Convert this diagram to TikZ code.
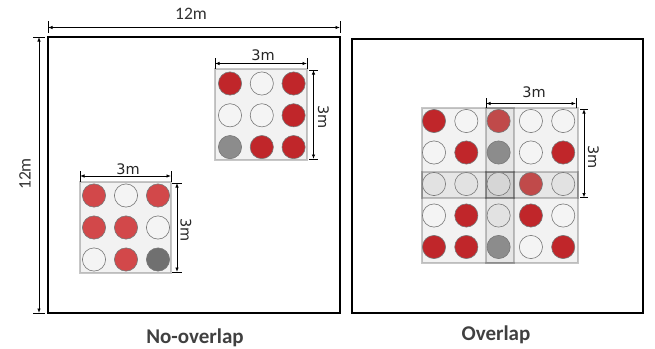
\documentclass[tikz,border=0pt]{standalone}
\usepackage{fontspec}
\setmainfont{Carlito}
\newfontfamily\dejavu{DejaVu Sans}
\usetikzlibrary{arrows.meta}

\definecolor{redA}{RGB}{192,38,42}
\definecolor{redB}{RGB}{210,72,74}
\definecolor{redT}{RGB}{192,74,74}
\definecolor{grayA}{RGB}{140,140,140}
\definecolor{grayB}{RGB}{112,112,112}
\definecolor{whiteA}{RGB}{244,244,244}
\definecolor{whiteT}{RGB}{226,226,226}
\definecolor{whiteTT}{RGB}{214,214,214}
\definecolor{ringC}{RGB}{120,120,120}
\definecolor{labelC}{RGB}{64,64,64}
\definecolor{dimtext}{RGB}{50,50,50}

\tikzset{
  frame/.style={draw=black, line width=2.6pt},
  window/.style={fill=black, fill opacity=0.05, draw=black, draw opacity=0.22, line width=1.4pt},
  dimline/.style={line width=0.8pt, {Latex[length=4.5pt,width=3.5pt]}-{Latex[length=4.5pt,width=3.5pt]}},
  dimtick/.style={line width=0.8pt},
  bigdim/.style={text=dimtext, inner sep=0pt, font=\fontsize{17.5}{20}\selectfont},
  smalldim/.style={text=black!85, inner sep=0pt, font=\dejavu\fontsize{14.5}{17}\selectfont},
  caption/.style={text=labelC, inner sep=0pt, anchor=base, font=\bfseries\fontsize{21}{25}\selectfont},
  dot/.style={draw=ringC, line width=0.6pt},
}
% one 3x3 window of sites: #1 x0, #2 y0, #3 pitch, #4 colours row by row
\newcommand{\sitegrid}[4]{%
  \foreach \c [count=\k from 0] in {#4} {
    \pgfmathtruncatemacro{\col}{mod(\k,3)}
    \pgfmathtruncatemacro{\row}{div(\k,3)}
    \fill[\c, dot] ({#1+\col*#3},{#2+\row*#3}) circle (11.6);
  }
}

\begin{document}
\begin{tikzpicture}[x=1pt, y=-1pt]
\useasboundingbox (0,0) rectangle (655,348);

% ---------------- left field: no overlap ----------------
\draw[frame] (48,37) rectangle (340,313);

% 12m dimensions of the field
\coordinate (tl1) at (48,27.5);  \coordinate (tr1) at (340,27.5);
\draw[dimtick] (48,21) -- (48,33);  \draw[dimtick] (340,21) -- (340,33);
\draw[dimline] (tl1) -- (tr1);
\node[bigdim] (w12) at (191,13.5) {12m};

\coordinate (lt1) at (39,37);  \coordinate (lb1) at (39,313);
\draw[dimtick] (33,37) -- (45,37);  \draw[dimtick] (33,313) -- (45,313);
\draw[dimline] (lt1) -- (lb1);
\node[bigdim, rotate=90] (h12) at (25,174) {12m};

% upper window
\draw[window] (215,69) rectangle (307,160);
\sitegrid{230}{83.5}{31.8}{redA,whiteA,redA,whiteA,whiteA,redA,grayA,redA,redA}
\coordinate (ua) at (215,63.5);  \coordinate (ub) at (307,63.5);
\draw[dimtick] (215,58) -- (215,69);  \draw[dimtick] (307,58) -- (307,69);
\draw[dimline] (ua) -- (ub);
\node[smalldim] (u3w) at (263,55) {3m};
\coordinate (uc) at (313.5,70);  \coordinate (ud) at (313.5,159);
\draw[dimtick] (309,70) -- (318,70);  \draw[dimtick] (309,159) -- (318,159);
\draw[dimline] (uc) -- (ud);
\node[smalldim, rotate=-90] (u3h) at (323.5,117) {3m};

% lower window
\draw[window] (80,182) rectangle (171,273);
\sitegrid{94}{195.5}{32}{redB,whiteA,redB,redB,redB,whiteA,whiteA,redB,grayB}
\coordinate (la) at (80,176);  \coordinate (lb) at (171,176);
\draw[dimtick] (80,171) -- (80,182);  \draw[dimtick] (171,171) -- (171,182);
\draw[dimline] (la) -- (lb);
\node[smalldim] (l3w) at (128,169.5) {3m};
\coordinate (lc) at (177,183);  \coordinate (ld) at (177,272);
\draw[dimtick] (172,183) -- (182,183);  \draw[dimtick] (172,272) -- (182,272);
\draw[dimline] (lc) -- (ld);
\node[smalldim, rotate=-90] (l3h) at (186,230) {3m};

\node[caption] (capA) at (195,343) {No-overlap};

% ---------------- right field: overlapping windows ----------------
\draw[frame] (352,39) rectangle (643,313);

\draw[window] (422,108) rectangle (514,198);
\draw[window] (486,108) rectangle (578,198);
\draw[window] (422,172) rectangle (514,263);
\draw[window] (486,172) rectangle (578,263);

% 5x5 sites, shared column and row sit under two or four windows
\foreach \c [count=\k from 0] in {
  redA,whiteA,redT,whiteA,whiteA,
  whiteA,redA,grayA,whiteA,redA,
  whiteT,whiteT,whiteTT,redT,whiteT,
  whiteA,redA,whiteT,redA,whiteA,
  redA,redA,grayA,whiteA,redA} {
  \pgfmathtruncatemacro{\col}{mod(\k,5)}
  \pgfmathtruncatemacro{\row}{div(\k,5)}
  \fill[\c, dot] ({434+\col*32.3},{121+\row*31.5}) circle (11.6);
}

\coordinate (oa) at (486,103.5);  \coordinate (ob) at (576,103.5);
\draw[dimtick] (486,98) -- (486,108);  \draw[dimtick] (576,98) -- (576,108);
\draw[dimline] (oa) -- (ob);
\node[smalldim] (o3w) at (534,92.5) {3m};
\coordinate (oc) at (584,109);  \coordinate (od) at (584,197.5);
\draw[dimtick] (580,109) -- (588,109);  \draw[dimtick] (580,197.5) -- (588,197.5);
\draw[dimline] (oc) -- (od);
\node[smalldim, rotate=-90] (o3h) at (593.5,157) {3m};

\node[caption] (capB) at (496,340) {Overlap};
\end{tikzpicture}
\end{document}
